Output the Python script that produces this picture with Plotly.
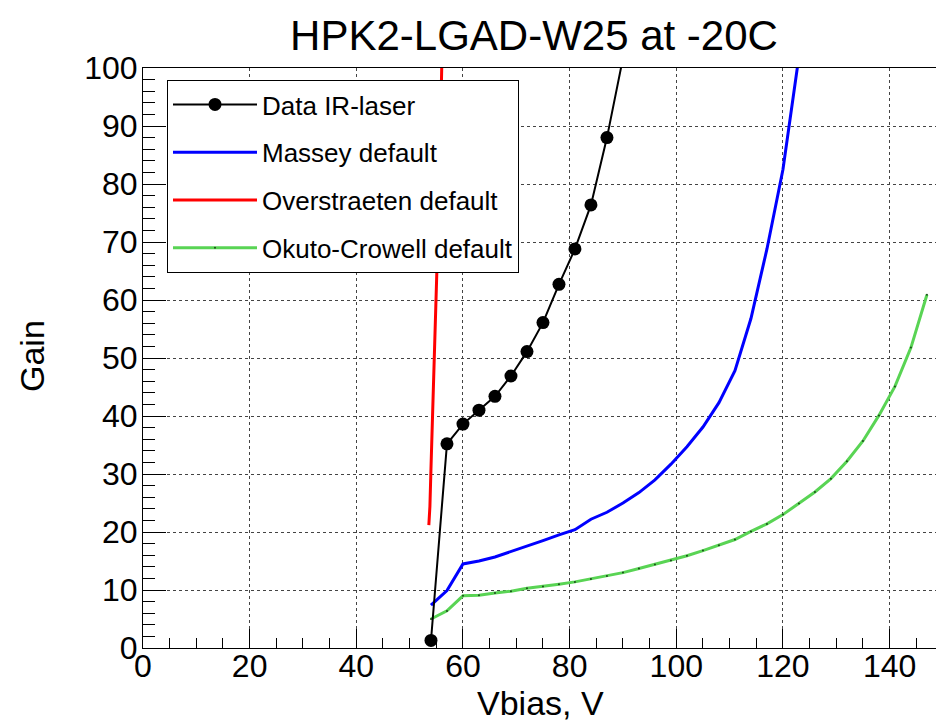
import plotly.graph_objects as go

# ---- data ----
data_v = [54, 57, 60, 63, 66, 69, 72, 75, 78, 81, 84, 87, 90]
data_gain = [1.3, 35.2, 38.6, 41.0, 43.4, 46.9, 51.1, 56.1, 62.7, 68.8, 76.4, 88.0, 101.7]

sim_v = [54, 57, 60, 63, 66, 69, 72, 75, 78, 81, 84, 87, 90, 93, 96, 99, 102, 105,
         108, 111, 114, 117, 120, 123, 126, 129, 132, 135, 138, 141, 144, 147]

massey_v = sim_v[:24]
massey_gain = [7.4, 9.9, 14.5, 15.0, 15.7, 16.6, 17.6, 18.5, 19.5, 20.4, 22.2, 23.4,
               25.0, 26.8, 29.0, 31.7, 34.7, 38.1, 42.3, 47.8, 56.8, 68.8, 82.5, 102.0]

okuto_gain = [5.0, 6.4, 9.0, 9.1, 9.5, 9.8, 10.3, 10.6, 11.0, 11.4, 11.9, 12.4,
              13.0, 13.7, 14.4, 15.1, 15.9, 16.8, 17.7, 18.7, 20.1, 21.4, 23.0, 24.9,
              26.9, 29.2, 32.2, 35.7, 40.1, 45.1, 51.8, 60.9]

overstraeten_v = [53.6, 53.8, 54.0, 54.25, 54.45, 54.7, 54.95, 55.2, 55.5, 55.75, 56.0, 56.05]
overstraeten_gain = [21.2, 24.4, 31.0, 38.0, 45.0, 52.5, 60.0, 68.0, 78.0, 89.0, 100.0, 101.5]

x_ticks = [0, 20, 40, 60, 80, 100, 120, 140]
y_ticks = [0, 10, 20, 30, 40, 50, 60, 70, 80, 90, 100]

FONT = "Liberation Sans, Arial, Helvetica, sans-serif"

fig = go.Figure()

fig.add_trace(go.Scatter(
    x=massey_v, y=massey_gain, mode="lines", name="Massey default",
    line=dict(color="#0000ff", width=3), legendrank=2, legendgroup="g2"))
fig.add_trace(go.Scatter(
    x=overstraeten_v, y=overstraeten_gain, mode="lines", name="Overstraeten default",
    line=dict(color="#ff0000", width=3), legendrank=3, legendgroup="g3"))
fig.add_trace(go.Scatter(
    x=sim_v, y=okuto_gain, mode="lines+markers", name="Okuto-Crowell default",
    line=dict(color="#59d454", width=3),
    marker=dict(size=2, color="#1a4a1a", symbol="circle"), legendrank=4, legendgroup="g4"))
fig.add_trace(go.Scatter(
    x=data_v, y=data_gain, mode="lines+markers", name="Data IR-laser",
    line=dict(color="black", width=2),
    marker=dict(size=13, color="black", symbol="circle"), legendrank=1, legendgroup="g1"))

fig.update_layout(
    width=936, height=724,
    margin=dict(l=143, r=0, t=68, b=76),
    paper_bgcolor="white", plot_bgcolor="white",
    font=dict(family=FONT, color="black"),
    title=dict(text="HPK2-LGAD-W25 at -20C", x=534 / 936, xanchor="center",
               xref="container", y=1 - 35 / 724, yanchor="middle", yref="container",
               font=dict(size=42, family=FONT, color="black")),
    showlegend=True,
    legend=dict(x=(167 - 143) / 793, y=(648 - 80) / 580, xanchor="left", yanchor="top",
                bgcolor="white", bordercolor="black", borderwidth=1,
                font=dict(size=26, family=FONT, color="black"),
                itemwidth=84, tracegroupgap=11, traceorder="grouped"),
    xaxis=dict(range=[0, 148.7], tickvals=x_ticks, ticktext=[str(v) for v in x_ticks],
               ticks="inside", ticklen=19, tickwidth=1, tickcolor="black",
               minor=dict(dtick=5, tick0=0, ticks="inside", ticklen=10, tickcolor="black", showgrid=False),
               showline=True, linecolor="black", linewidth=1, mirror=True,
               showgrid=True, gridcolor="#444444", griddash="dot", gridwidth=1,
               zeroline=False, tickfont=dict(size=32, family=FONT, color="black"),
               ticklabelstandoff=-10),
    yaxis=dict(range=[0, 100], tickvals=y_ticks, ticktext=[str(v) for v in y_ticks],
               ticks="inside", ticklen=23, tickwidth=1, tickcolor="black",
               minor=dict(dtick=2, tick0=0, ticks="inside", ticklen=12, tickcolor="black", showgrid=False),
               showline=True, linecolor="black", linewidth=1, mirror=False,
               showgrid=True, gridcolor="#444444", griddash="dot", gridwidth=1,
               zeroline=False, tickfont=dict(size=32, family=FONT, color="black"),
               ticklabelstandoff=-2),
    annotations=[
        dict(text="Gain", xref="paper", yref="paper", x=-(143 - 32) / 793, y=(648 - 356) / 580,
             xanchor="center", yanchor="middle", textangle=-90, showarrow=False,
             font=dict(size=34, family=FONT, color="black")),
        dict(text="Vbias, V", xref="paper", yref="paper", x=(540 - 143) / 793, y=-(703 - 648) / 580,
             xanchor="center", yanchor="middle", showarrow=False,
             font=dict(size=34, family=FONT, color="black")),
    ],
)

fig.write_html("out.html")
